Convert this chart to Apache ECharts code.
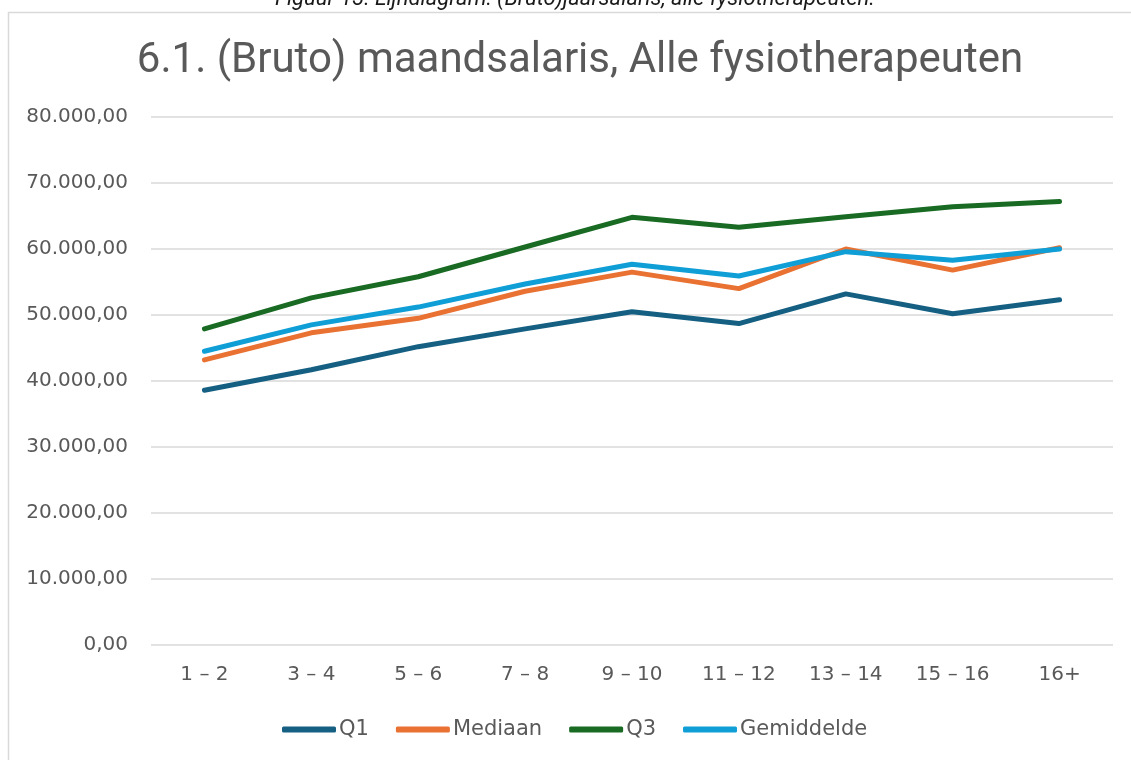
<!DOCTYPE html>
<html>
<head>
<meta charset="utf-8">
<script src="https://cdn.jsdelivr.net/npm/echarts@6/dist/echarts.min.js"></script>
<style>
  html, body { margin: 0; padding: 0; background: #fff; }
  #chart { width: 1131px; height: 760px; }
</style>
</head>
<body>
<div id="chart"></div>
<script>
// categories (jaren ervaring)
const categories = ["1 – 2", "3 – 4", "5 – 6", "7 – 8", "9 – 10", "11 – 12", "13 – 14", "15 – 16", "16+"];
const q1 = [38600, 41700, 45200, 47900, 50500, 48700, 53200, 50200, 52300];
const mediaan = [43200, 47300, 49500, 53600, 56500, 54000, 60000, 56800, 60200];
const q3 = [47900, 52600, 55800, 60300, 64800, 63300, 64900, 66400, 67200];
const gemiddelde = [44500, 48500, 51200, 54700, 57700, 55900, 59600, 58300, 60000];

const textColor = "#595959";
const labelFont = "DejaVu Sans";
const titleFont = "Roboto";

function fmt(v) {
  // 80000 -> 80.000,00
  const s = Math.round(v).toString().replace(/\B(?=(\d{3})+(?!\d))/g, ".");
  return s + ",00";
}

function lineSeries(name, data, color) {
  return {
    name: name,
    type: "line",
    data: data,
    symbol: "none",
    itemStyle: { color: color },
    lineStyle: { color: color, width: 5, cap: "round", join: "round" },
  };
}

let myChart = echarts.init(document.getElementById("chart"));
let option = {
  animation: false,
  textStyle: { fontFamily: labelFont },
  graphic: [
    {
      type: "rect",
      shape: { x: 8.5, y: 12.5, width: 1200, height: 800 },
      style: { fill: "none", stroke: "#d9d9d9", lineWidth: 1.5 },
    },
    {
      type: "text",
      x: 575,
      y: 10,
      style: {
        text: "Figuur 13: Lijndiagram: (Bruto)jaarsalaris, alle fysiotherapeuten.",
        fontFamily: titleFont,
        fontStyle: "italic",
        fontSize: 22,
        fill: "#1a1a1a",
        align: "center",
        verticalAlign: "bottom",
      },
    },
  ],
  title: {
    text: "6.1. (Bruto) maandsalaris, Alle fysiotherapeuten",
    left: 575,
    textAlign: "center",
    top: 35,
    textStyle: {
      color: textColor,
      fontFamily: titleFont,
      fontSize: 42,
      fontWeight: "normal",
    },
  },
  legend: {
    bottom: 15,
    left: 277,
    icon: "roundRect",
    itemWidth: 54,
    itemHeight: 6,
    itemGap: 27,
    textStyle: { color: textColor, fontSize: 21, fontFamily: labelFont, padding: [0, 0, 0, -2] },
    data: ["Q1", "Mediaan", "Q3", "Gemiddelde"],
  },
  grid: {
    left: 151,
    right: 18,
    top: 117,
    bottom: 115,
    containLabel: false,
  },
  xAxis: {
    type: "category",
    data: categories,
    boundaryGap: true,
    axisLine: { show: false },
    axisTick: { show: false },
    axisLabel: { color: textColor, fontSize: 20, margin: 20, fontFamily: labelFont },
  },
  yAxis: {
    type: "value",
    min: 0,
    max: 80000,
    interval: 10000,
    axisLine: { show: false },
    axisTick: { show: false },
    axisLabel: { color: textColor, fontSize: 20, margin: 23, fontFamily: labelFont, formatter: fmt },
    splitLine: { lineStyle: { color: "#d9d9d9", width: 1.5 } },
  },
  series: [
    lineSeries("Q1", q1, "#156082"),
    lineSeries("Mediaan", mediaan, "#E97132"),
    lineSeries("Q3", q3, "#196B24"),
    lineSeries("Gemiddelde", gemiddelde, "#0F9ED5"),
  ],
};
myChart.setOption(option);
</script>
</body>
</html>
